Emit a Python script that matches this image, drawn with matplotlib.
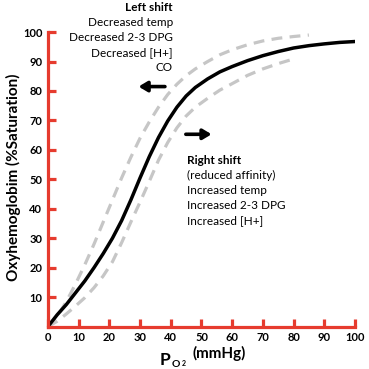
import matplotlib
matplotlib.use("Agg")
import matplotlib.pyplot as plt

# oxygen dissociation curves
po2_normal = [0, 3, 6, 9, 12, 15, 18, 21, 24, 27, 30, 33, 36, 39, 42, 45, 48, 52, 56,
              60, 65, 70, 75, 80, 85, 90, 95, 100]
sat_normal = [0, 4, 7.5, 11.5, 15.5, 20, 24.8, 30, 36, 43, 50.5, 57.7, 64.2, 69.8, 74.5,
              78.3, 81.2, 84.1, 86.5, 88.3, 90.3, 92, 93.4, 94.6, 95.4, 96, 96.5, 96.8]

po2_left = [0, 3, 6, 9, 12, 15, 18, 21, 24, 27, 30, 33, 36, 39, 42, 45, 48, 52, 56,
            60, 65, 70, 75, 80, 85]
sat_left = [0, 3.5, 8.5, 14.5, 21, 28, 35.5, 43, 50.5, 57.5, 64, 69.5, 74.5, 78.8, 82.3,
            85.2, 87.5, 90, 92.3, 94, 95.7, 97, 97.9, 98.5, 99]

po2_right = [0, 3, 6, 9, 12, 15, 18, 21, 24, 27, 30, 33, 36, 39, 42, 45, 48, 52, 56,
             60, 65, 70, 75, 81]
sat_right = [0, 1.8, 4.3, 7, 9.8, 13.2, 17.2, 22, 28.5, 35.5, 42.3, 49.3, 56.5, 62.5, 67.5,
             71.5, 74.5, 77.5, 80.3, 82.5, 85.3, 87.5, 89.3, 91.2]

xticks = [0, 10, 20, 30, 40, 50, 60, 70, 80, 90, 100]
yticks = [10, 20, 30, 40, 50, 60, 70, 80, 90, 100]

left_text = ["Decreased temp", "Decreased 2-3 DPG", "Decreased [H+]", "CO"]
right_text = ["(reduced affinity)", "Increased temp", "Increased 2-3 DPG", "Increased [H+]"]

red = "#e63b2e"
font = "Lato"
plt.rcParams["font.family"] = [font, "DejaVu Sans"]

fig = plt.figure(figsize=(3.69, 3.69), dpi=100)
ax = fig.add_axes([0.130, 0.115, 0.832, 0.798])

ax.plot(po2_left, sat_left, color="#c6c6c6", lw=2.3, dashes=(3.4, 2.3))
ax.plot(po2_right, sat_right, color="#c6c6c6", lw=2.3, dashes=(3.4, 2.3))
ax.plot(po2_normal, sat_normal, color="black", lw=2.5, solid_capstyle="round")

ax.set_xlim(0, 100)
ax.set_ylim(0, 100)
for s in ["top", "right"]:
    ax.spines[s].set_visible(False)
for s in ["left", "bottom"]:
    ax.spines[s].set_color(red)
    ax.spines[s].set_linewidth(2.3)
ax.set_xticks(xticks)
ax.set_yticks(yticks)
ax.tick_params(direction="in", length=6, width=2.3, color=red, labelsize=8, pad=4)
for lab in ax.get_xticklabels() + ax.get_yticklabels():
    lab.set_fontweight("bold")

# annotation blocks
ax.text(40.7, 108.3, "Left shift", ha="right", va="center", fontsize=8.5, fontweight="bold")
for i, t in enumerate(left_text):
    ax.text(40.7, 103.2 - 5.05 * i, t, ha="right", va="center", fontsize=8.5)
ax.text(45.3, 56.4, "Right shift", ha="left", va="center", fontsize=8.5, fontweight="bold")
for i, t in enumerate(right_text):
    ax.text(45.3, 51.4 - 5.1 * i, t, ha="left", va="center", fontsize=8.5)

arrow = dict(arrowstyle="-|>,head_length=0.5,head_width=0.3", color="black", lw=2.6)
ax.annotate("", xy=(28.6, 81.5), xytext=(39, 81.5), arrowprops=arrow, annotation_clip=False)
ax.annotate("", xy=(54.2, 65.3), xytext=(44, 65.3), arrowprops=arrow, annotation_clip=False)

# axis titles
fig.text(13 / 369, 1 - 177 / 369, "Oxyhemoglobim (%Saturation)", rotation=90,
         ha="center", va="center", fontsize=11, fontweight="bold")
fig.text(160 / 369, 1 - 365 / 369, "P", fontsize=12.5, fontweight="bold", va="baseline")
fig.text(172 / 369, 1 - 367 / 369, "O", fontsize=7.5, fontweight="bold", va="baseline")
fig.text(181.5 / 369, 1 - 366 / 369, "2", fontsize=5, fontweight="bold", va="baseline")
fig.text(193 / 369, 1 - 358 / 369, "(mmHg)", fontsize=11, fontweight="bold", va="baseline")

fig.savefig("out.png", dpi=100)
